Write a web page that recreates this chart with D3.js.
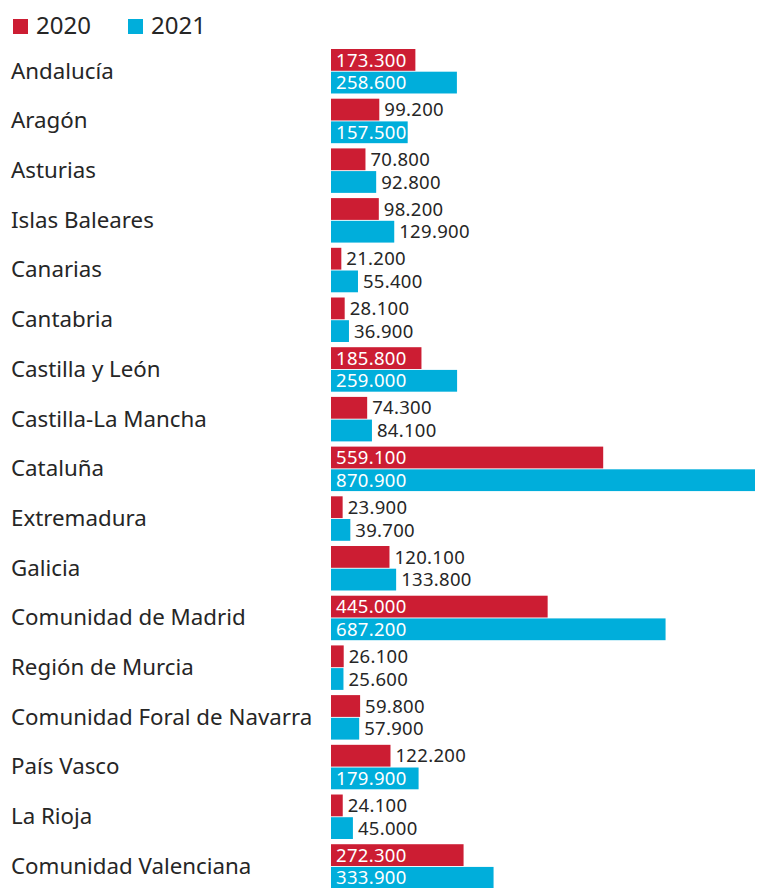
<!DOCTYPE html>
<html>
<head>
<meta charset="utf-8">
<script src="https://cdn.jsdelivr.net/npm/d3@7"></script>
<style>
  html, body { margin: 0; padding: 0; background: #fff; }
  svg { display: block; }
</style>
</head>
<body>
<svg id="chart" width="761" height="888"></svg>
<script>
const categories = ["Andalucía","Aragón","Asturias","Islas Baleares","Canarias","Cantabria","Castilla y León","Castilla-La Mancha","Cataluña","Extremadura","Galicia","Comunidad de Madrid","Región de Murcia","Comunidad Foral de Navarra","País Vasco","La Rioja","Comunidad Valenciana"];
const values2020 = [173.3, 99.2, 70.8, 98.2, 21.2, 28.1, 185.8, 74.3, 559.1, 23.9, 120.1, 445.0, 26.1, 59.8, 122.2, 24.1, 272.3];
const values2021 = [258.6, 157.5, 92.8, 129.9, 55.4, 36.9, 259.0, 84.1, 870.9, 39.7, 133.8, 687.2, 25.6, 57.9, 179.9, 45.0, 333.9];
const seriesNames = ["2020", "2021"];
const colors = ["#cc1d33", "#00aedb"];

const svg = d3.select("#chart");
const font = "'Noto Sans', 'Open Sans', sans-serif";
const textColor = "#262626";

const x = d3.scaleLinear().domain([0, 870.9]).range([331, 755]);
const y = d3.scaleBand().domain(categories).range([49, 888.7]).paddingInner(0.105).paddingOuter(0);
const ySub = d3.scaleBand().domain(seriesNames).range([0, y.bandwidth()]).paddingInner(0.04);
const color = d3.scaleOrdinal().domain(seriesNames).range(colors);

const fmt = v => d3.format(".3f")(v).replace(",", "");

// Legend
const legend = svg.append("g");
const legendX = [13, 128];
seriesNames.forEach((s, i) => {
  legend.append("rect").attr("x", legendX[i]).attr("y", 19).attr("width", 15).attr("height", 15).attr("fill", color(s));
  legend.append("text").attr("x", legendX[i] + 23).attr("y", 34)
    .attr("font-family", font).attr("font-size", 24).attr("fill", textColor).text(s);
});

const data = categories.map((c, i) => ({ cat: c, vals: [ { s: "2020", v: values2020[i] }, { s: "2021", v: values2021[i] } ] }));

const groups = svg.append("g").selectAll("g").data(data).join("g")
  .attr("transform", d => `translate(0,${y(d.cat)})`);

groups.append("text")
  .attr("x", 11)
  .attr("y", y.bandwidth() / 2)
  .attr("dy", "0.33em")
  .attr("font-family", font).attr("font-size", 22.3).attr("fill", textColor)
  .text(d => d.cat);

const bars = groups.selectAll("g.bar").data(d => d.vals).join("g").attr("class", "bar")
  .attr("transform", d => `translate(0,${ySub(d.s)})`);

bars.append("rect")
  .attr("x", x(0))
  .attr("y", 0)
  .attr("width", d => x(d.v) - x(0))
  .attr("height", ySub.bandwidth())
  .attr("fill", d => color(d.s));

bars.append("text")
  .attr("font-family", font).attr("font-size", 18.5).attr("letter-spacing", 0.3)
  .attr("y", ySub.bandwidth() / 2)
  .attr("dy", "0.36em")
  .text(d => fmt(d.v))
  .each(function(d) {
    const w = this.getComputedTextLength();
    const bw = x(d.v) - x(0);
    const t = d3.select(this);
    if (w + 5 < bw) {
      t.attr("x", x(0) + 5).attr("fill", "#fff");
    } else {
      t.attr("x", x(d.v) + 5).attr("fill", textColor);
    }
  });
</script>
</body>
</html>
